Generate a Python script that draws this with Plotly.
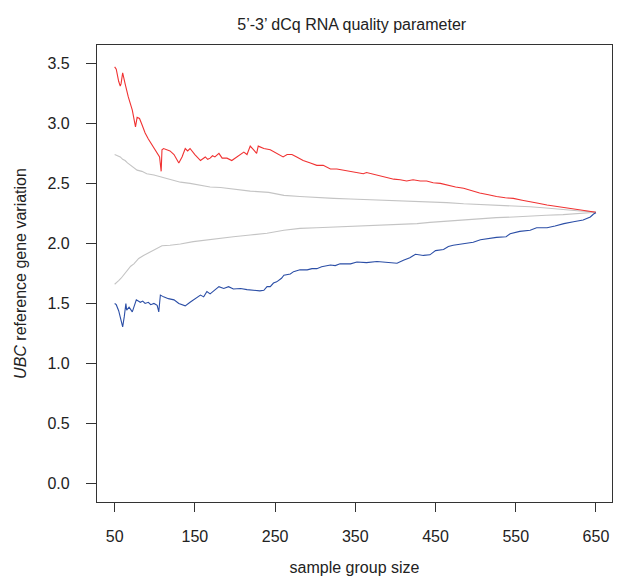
import plotly.graph_objects as go

# ---- data ----
red_x = [50, 52, 55, 57, 58, 60, 63, 67, 72, 76, 78, 81, 84, 88, 92, 97, 101, 104, 106, 108, 109, 111, 115, 119,
         124, 128, 130, 134, 138, 141, 144, 150, 157, 163, 166, 169, 172, 175, 180, 184, 190, 196, 202, 207, 211,
         215, 219, 223, 227, 229, 236, 244, 252, 260, 265, 271, 277, 285, 294, 302, 310, 319, 327, 335, 344, 352,
         360, 364, 373, 381, 389, 398, 406, 414, 422, 431, 439, 447, 456, 464, 475, 485, 495, 505, 516, 526, 537,
         547, 558, 568, 578, 589, 599, 609, 620, 630, 640, 650]
red_y = [3.47, 3.45, 3.35, 3.31, 3.33, 3.42, 3.33, 3.22, 3.11, 2.97, 3.05, 3.04, 2.99, 2.92, 2.87, 2.82, 2.78, 2.75,
         2.72, 2.60, 2.78, 2.79, 2.78, 2.77, 2.74, 2.69, 2.67, 2.72, 2.79, 2.77, 2.79, 2.74, 2.69, 2.72, 2.70, 2.71,
         2.73, 2.72, 2.75, 2.71, 2.71, 2.69, 2.72, 2.74, 2.76, 2.74, 2.81, 2.78, 2.75, 2.81, 2.79, 2.78, 2.75, 2.72,
         2.74, 2.74, 2.72, 2.69, 2.67, 2.65, 2.65, 2.62, 2.62, 2.61, 2.60, 2.59, 2.58, 2.59, 2.575, 2.56, 2.55, 2.535,
         2.53, 2.52, 2.53, 2.52, 2.52, 2.505, 2.50, 2.485, 2.47, 2.46, 2.44, 2.42, 2.405, 2.39, 2.38, 2.375, 2.36,
         2.35, 2.335, 2.32, 2.31, 2.30, 2.29, 2.28, 2.265, 2.26]

gray_up_x = [50, 53, 57, 60, 63, 66, 70, 74, 78, 84, 90, 99, 107, 119, 132, 144, 157, 169, 182, 198, 219, 242, 261,
             281, 302, 323, 344, 365, 385, 406, 427, 443, 464, 485, 505, 526, 547, 568, 588, 609, 630, 643, 650]
gray_up_y = [2.74, 2.73, 2.72, 2.70, 2.69, 2.67, 2.65, 2.63, 2.61, 2.60, 2.58, 2.57, 2.555, 2.53, 2.51, 2.50, 2.485,
             2.47, 2.465, 2.45, 2.435, 2.425, 2.40, 2.39, 2.38, 2.375, 2.37, 2.365, 2.36, 2.355, 2.35, 2.35, 2.34, 2.33,
             2.325, 2.32, 2.31, 2.305, 2.295, 2.28, 2.27, 2.265, 2.26]

gray_lo_x = [50, 52, 55, 58, 61, 64, 67, 70, 74, 77, 80, 86, 94, 103, 109, 119, 132, 148, 165, 182, 198, 219, 240,
             261, 281, 302, 323, 344, 365, 385, 406, 427, 443, 464, 485, 505, 526, 547, 568, 588, 609, 630, 650]
gray_lo_y = [1.66, 1.67, 1.69, 1.71, 1.735, 1.76, 1.79, 1.81, 1.83, 1.85, 1.875, 1.90, 1.93, 1.96, 1.98, 1.985, 1.995,
             2.015, 2.03, 2.04, 2.055, 2.07, 2.085, 2.11, 2.125, 2.13, 2.135, 2.14, 2.145, 2.15, 2.16, 2.165, 2.175,
             2.185, 2.20, 2.21, 2.215, 2.22, 2.23, 2.235, 2.24, 2.25, 2.26]

blue_x = [50, 52, 55, 58, 60, 62, 64, 65, 68, 72, 74, 77, 82, 85, 88, 92, 95, 99, 103, 105, 107, 111, 117, 124, 130,
          138, 144, 150, 157, 161, 165, 169, 175, 180, 186, 192, 198, 207, 215, 223, 231, 236, 240, 244, 248, 252,
          258, 261, 269, 273, 281, 290, 296, 302, 308, 319, 325, 331, 344, 352, 364, 377, 389, 402, 410, 418, 425,
          435, 443, 450, 460, 466, 472, 485, 497, 506, 526, 538, 543, 555, 568, 576, 589, 599, 610, 622, 634, 643,
          647, 650]
blue_y = [1.50, 1.49, 1.44, 1.36, 1.305, 1.39, 1.50, 1.445, 1.47, 1.43, 1.47, 1.53, 1.51, 1.52, 1.50, 1.51, 1.49,
          1.50, 1.485, 1.43, 1.57, 1.555, 1.54, 1.53, 1.50, 1.48, 1.51, 1.54, 1.57, 1.555, 1.60, 1.58, 1.61, 1.64,
          1.625, 1.64, 1.62, 1.625, 1.615, 1.61, 1.605, 1.61, 1.64, 1.64, 1.67, 1.68, 1.71, 1.735, 1.745, 1.765,
          1.78, 1.78, 1.79, 1.79, 1.805, 1.82, 1.815, 1.83, 1.83, 1.845, 1.84, 1.85, 1.845, 1.835, 1.86, 1.88, 1.91,
          1.90, 1.905, 1.94, 1.95, 1.975, 1.985, 2.00, 2.01, 2.03, 2.05, 2.055, 2.08, 2.10, 2.11, 2.13, 2.13, 2.145,
          2.165, 2.18, 2.195, 2.22, 2.245, 2.255]

x_ticks = [50, 150, 250, 350, 450, 550, 650]
y_ticks = [0.0, 0.5, 1.0, 1.5, 2.0, 2.5, 3.0, 3.5]

GRAY = "#c4c4c4"
RED = "#f03232"
BLUE = "#2b4ea6"
AXIS = "#333333"
FONT = "Liberation Sans, Arial, sans-serif"

fig = go.Figure()
for xs, ys, col in [(gray_up_x, gray_up_y, GRAY), (gray_lo_x, gray_lo_y, GRAY),
                    (red_x, red_y, RED), (blue_x, blue_y, BLUE)]:
    fig.add_trace(go.Scatter(x=xs, y=ys, mode="lines", line=dict(color=col, width=1.1),
                             showlegend=False, hoverinfo="skip"))

fig.update_layout(
    width=617, height=576,
    margin=dict(l=97, r=5, t=45, b=74),
    paper_bgcolor="white", plot_bgcolor="white",
    font=dict(family=FONT, size=16, color="#222222"),
    title=dict(text="5’-3’ dCq RNA quality parameter", x=0.57, xanchor="center",
               y=1 - 24 / 576, yanchor="middle", font=dict(size=16, color="#222222")),
)
fig.update_xaxes(
    range=[28, 670], tickvals=x_ticks, ticktext=[str(v) for v in x_ticks], automargin=False,
    showgrid=False, zeroline=False, showline=True, mirror=True, linecolor=AXIS, linewidth=1.3,
    ticks="outside", ticklen=9, tickcolor=AXIS, tickwidth=1.3, ticklabelstandoff=11,
    title=dict(text="sample group size", standoff=20, font=dict(size=16)),
)
fig.update_yaxes(
    range=[-0.153, 3.652], tickvals=y_ticks, ticktext=[f"{v:.1f}" for v in y_ticks], automargin=False,
    showgrid=False, zeroline=False, showline=True, mirror=True, linecolor=AXIS, linewidth=1.3,
    ticks="outside", ticklen=10, tickcolor=AXIS, tickwidth=1.3, ticklabelstandoff=13,
    title=dict(text="<i>UBC</i> reference gene variation", standoff=16, font=dict(size=16)),
)

fig.write_html("out.html", config={"displayModeBar": False},
               post_script="document.body.style.margin='0';document.body.style.overflow='hidden';")
